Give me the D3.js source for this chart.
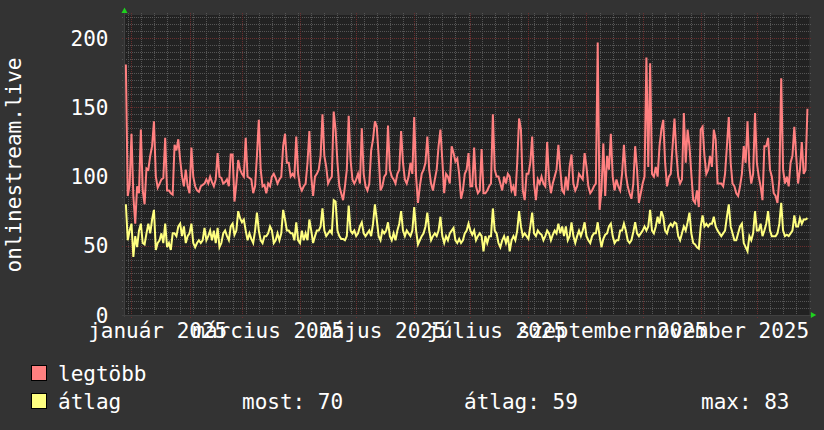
<!DOCTYPE html>
<html>
<head>
<meta charset="utf-8">
<script src="https://cdn.jsdelivr.net/npm/d3@7"></script>
<style>
html,body{margin:0;padding:0;background:#333333;}
svg{display:block;}
text{font-family:"DejaVu Sans Mono",monospace;font-size:21px;fill:#ffffff;}
</style>
</head>
<body>
<svg id="chart" width="824" height="430"></svg>
<script>
// ---- data (one value per day, starting 2024-12-28) ----
const firstDay = "2024-12-28";
const legtobb = [
181,86,94,131,86,66,93,88,134,90,
80,106,105,115,122,140,100,92,95,98,
99,128,90,90,88,87,123,119,127,112,
100,93,105,93,88,121,100,93,90,89,
93,94,95,98,95,100,96,93,98,117,
100,99,95,96,98,93,116,116,82,95,
112,105,102,100,128,100,99,98,88,93,
115,141,105,93,94,88,95,93,100,102,
99,95,98,100,122,131,110,110,100,102,
100,129,102,93,90,93,95,110,133,100,
86,100,102,105,115,145,115,107,95,98,
100,147,134,110,93,88,83,93,105,144,
112,98,95,98,102,95,135,102,93,90,
95,119,127,140,136,115,90,93,100,102,
137,105,100,98,95,102,105,133,110,98,
95,100,110,102,143,100,81,93,102,105,
110,129,105,95,90,98,105,122,134,112,
88,102,100,95,122,117,111,113,102,84,
90,102,105,117,93,93,121,93,88,90,
120,88,88,90,93,95,145,105,100,100,
95,90,100,95,102,100,90,93,86,110,
142,134,90,83,102,102,110,129,95,83,
98,95,100,95,93,125,98,88,95,100,
105,123,105,90,88,100,90,107,116,95,
90,93,102,100,98,117,107,93,88,90,
93,95,197,76,90,124,86,115,105,131,
100,90,98,93,90,102,123,102,93,88,
84,95,122,105,81,88,95,100,186,107,
182,102,100,107,100,122,134,141,110,93,
100,102,122,142,117,100,95,98,146,110,
134,122,102,83,81,90,78,134,136,115,
102,105,115,107,134,127,95,95,95,93,
102,122,143,110,95,93,88,86,93,102,
122,110,140,107,95,102,146,110,100,93,
83,122,122,128,105,100,88,86,81,98,
171,105,95,100,93,110,115,136,115,95,
105,125,102,105,149
];
const atlag = [
80,54,61,66,42,57,49,61,66,52,
51,59,66,59,69,76,47,52,54,59,
52,66,49,52,47,59,59,57,64,66,
57,64,52,57,59,66,52,49,52,54,
52,54,63,54,57,61,54,61,52,63,
49,52,59,61,57,54,64,66,58,61,
75,70,67,69,61,54,59,55,52,61,
74,61,54,52,57,57,59,64,61,52,
54,59,54,59,76,69,61,61,59,59,
54,67,54,52,61,54,59,54,69,61,
52,57,61,61,64,77,61,57,59,61,
59,83,82,61,57,55,55,54,57,79,
61,59,61,57,59,64,67,59,57,59,
61,57,66,80,69,57,54,61,59,61,
67,57,54,59,54,61,66,75,61,57,
61,59,57,61,78,61,51,54,57,59,
64,74,61,54,57,59,57,61,71,57,
52,57,54,59,61,63,54,52,55,52,
54,59,61,66,61,58,61,54,57,59,
57,46,57,52,57,57,77,61,59,52,
49,54,57,52,57,46,54,57,54,61,
75,64,57,59,57,55,64,74,59,57,
61,59,58,54,57,61,59,54,58,61,
59,66,59,64,57,64,54,57,67,57,
52,57,61,57,61,67,57,54,52,57,
59,59,67,57,49,55,58,59,64,66,
57,52,54,54,61,61,66,61,54,52,
54,60,67,59,57,59,61,64,61,64,
76,61,59,64,71,66,75,71,61,59,
64,66,64,67,66,57,54,59,64,61,
67,74,59,52,51,49,48,64,72,64,
66,64,66,66,71,64,61,59,57,59,
61,71,80,64,59,54,54,59,64,66,
52,49,46,57,54,59,75,61,61,66,
57,61,66,75,61,57,57,57,59,66,
81,61,57,58,57,59,61,72,64,64,
70,66,69,69,70
];
const timeRange = ["2024-12-28", "2025-12-29"];
const yTicks = [0, 50, 100, 150, 200];
const yMax = 216.8;
const xLabels = ["január 2025", "március 2025", "május 2025", "július 2025", "szeptember 2025", "november 2025"];
const xLabelDates = ["2025-01-15", "2025-03-15", "2025-05-15", "2025-07-15", "2025-09-15", "2025-11-15"];
const yTitle = "onlinestream.live";
const seriesNames = ["legtöbb", "átlag"];
const seriesColors = ["#ff8080", "#ffff80"];
const legendStats = ["most: 70", "átlag: 59", "max: 83"];

// ---- layout ----
const W = 824, H = 430;
const plot = {left: 124, right: 809.3, top: 15, bottom: 315};
const parse = d3.timeParse("%Y-%m-%d");
const t0 = parse(firstDay);
const dates = legtobb.map((_, i) => d3.timeDay.offset(t0, i + 1));

const svg = d3.select("#chart");
svg.append("rect").attr("width", W).attr("height", H).attr("fill", "#333333");

const x = d3.scaleTime().domain(timeRange.map(parse)).range([plot.left, plot.right]);
const y = d3.scaleLinear().domain([0, yMax]).range([plot.bottom, plot.top]);

// plot background
svg.append("rect")
  .attr("x", plot.left).attr("y", plot.top)
  .attr("width", plot.right - plot.left).attr("height", plot.bottom - plot.top)
  .attr("fill", "#222222");

const grid = svg.append("g").attr("shape-rendering", "crispEdges");
const px = v => Math.round(v) + 0.5;
const minorColor = "#555555", majorColor = "#6a2e2e";

// minor horizontal grid (every 5)
const minorY = d3.range(5, yMax, 5).filter(v => v % 50 !== 0);
grid.selectAll("line.hmin").data(minorY).join("line")
  .attr("x1", plot.left - 2).attr("x2", plot.right + 2)
  .attr("y1", d => px(y(d))).attr("y2", d => px(y(d)))
  .attr("stroke", minorColor).attr("stroke-dasharray", "1,1");

// minor vertical grid: Mondays
const mondays = d3.timeMonday.range(x.domain()[0], x.domain()[1]);
grid.selectAll("line.vmin").data(mondays).join("line")
  .attr("x1", d => px(x(d))).attr("x2", d => px(x(d)))
  .attr("y1", plot.top - 2).attr("y2", plot.bottom + 2)
  .attr("stroke", minorColor).attr("stroke-dasharray", "1,1");

// major horizontal grid
grid.selectAll("line.hmaj").data(yTicks.filter(v => v > 0)).join("line")
  .attr("x1", plot.left - 2).attr("x2", plot.right + 2)
  .attr("y1", d => px(y(d))).attr("y2", d => px(y(d)))
  .attr("stroke", majorColor).attr("stroke-dasharray", "1,1");

// major vertical grid: month starts
const months = d3.timeMonth.range(x.domain()[0], x.domain()[1]);
grid.selectAll("line.vmaj").data(months).join("line")
  .attr("x1", d => px(x(d))).attr("x2", d => px(x(d)))
  .attr("y1", plot.top - 2).attr("y2", plot.bottom + 3)
  .attr("stroke", majorColor).attr("stroke-dasharray", "1,1");

// axes lines
grid.append("line").attr("x1", plot.left - 2).attr("x2", plot.right + 3)
  .attr("y1", px(plot.bottom)).attr("y2", px(plot.bottom)).attr("stroke", "#404040");
grid.append("line").attr("x1", px(plot.left)).attr("x2", px(plot.left))
  .attr("y1", plot.top - 3).attr("y2", plot.bottom + 2).attr("stroke", "#404040");

// arrows
svg.append("path").attr("d", d3.line()([[plot.left - 2.5, 13], [plot.left + 3.5, 13], [plot.left + 0.5, 7.5]]) + "Z")
  .attr("fill", "#1fd21f");
svg.append("path").attr("d", d3.line()([[plot.right + 1.5, plot.bottom - 3], [plot.right + 1.5, plot.bottom + 3], [plot.right + 7, plot.bottom]]) + "Z")
  .attr("fill", "#1fd21f");

// series lines
const line = d3.line().x((d, i) => x(dates[i])).y(d => y(d));
[legtobb, atlag].forEach((series, k) => {
  svg.append("path").datum(series)
    .attr("d", line)
    .attr("fill", "none")
    .attr("stroke", seriesColors[k])
    .attr("stroke-width", 2)
    .attr("stroke-linejoin", "miter");
});

// y tick labels
svg.selectAll("text.yt").data(yTicks).join("text")
  .attr("x", 108.5).attr("y", d => y(d) + 7.6)
  .attr("text-anchor", "end")
  .text(d => d);

// x labels
svg.selectAll("text.xt").data(xLabels).join("text")
  .attr("x", (d, i) => x(parse(xLabelDates[i])))
  .attr("y", 337.5)
  .attr("text-anchor", "middle")
  .text(d => d);

// y title
svg.append("text")
  .attr("transform", "translate(21,165) rotate(-90)")
  .attr("text-anchor", "middle")
  .text(yTitle);

// legend
const legRows = [381, 409];
seriesNames.forEach((name, k) => {
  svg.append("rect")
    .attr("x", 31.5).attr("y", legRows[k] - 15.5)
    .attr("width", 15).attr("height", 15)
    .attr("fill", seriesColors[k]).attr("stroke", "#000000").attr("stroke-width", 1);
  svg.append("text").attr("x", 58).attr("y", legRows[k]).text(name);
});
const statX = [242, 464, 701];
legendStats.forEach((s, i) => {
  svg.append("text").attr("x", statX[i]).attr("y", legRows[1]).text(s);
});
</script>
</body>
</html>
